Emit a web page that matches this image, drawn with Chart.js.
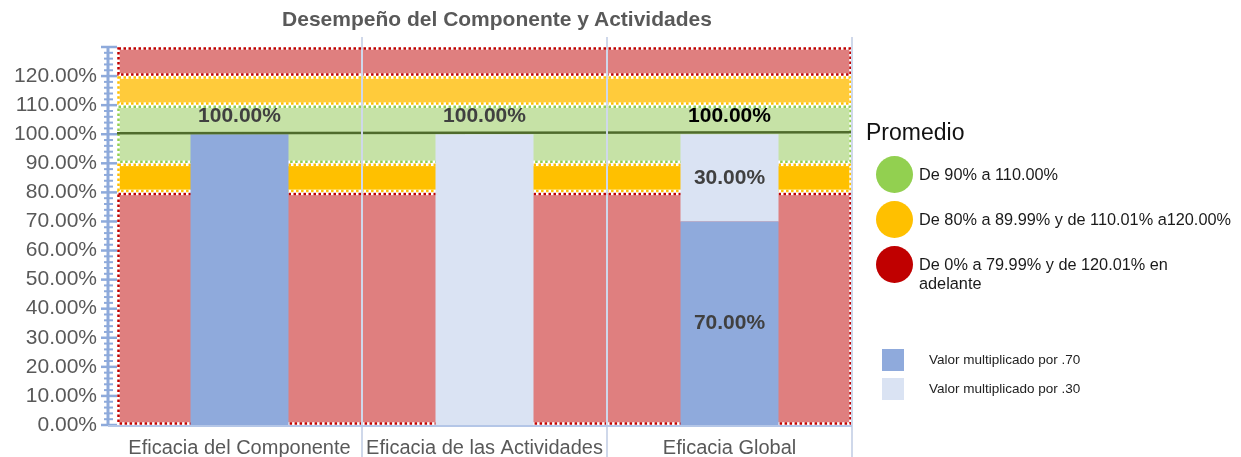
<!DOCTYPE html>
<html lang="es">
<head>
<meta charset="utf-8">
<title>Desempeño del Componente y Actividades</title>
<script src="https://cdn.jsdelivr.net/npm/chart.js@4.4.1/dist/chart.umd.min.js"></script>
<style>
  html, body { margin: 0; padding: 0; background: #fff; }
  body { width: 1241px; height: 457px; position: relative; overflow: hidden; font-family: "Liberation Sans", Arial, sans-serif; }
  #chart { position: absolute; left: 0; top: 0; }
  #titulo { position: absolute; left: 0; top: 7px; width: 994px; text-align: center; font-weight: bold; font-size: 21px; color: #595959; }
  #leyenda { position: absolute; left: 866px; top: 119px; color: #1a1a1a; }
  #leyenda h3 { margin: 0 0 10px 0; font-weight: normal; font-size: 23px; color: #111; }
  .rango { position: relative; height: 45px; }
  .rango .circulo { position: absolute; left: 10px; top: 0; width: 37px; height: 37px; border-radius: 50%; }
  .rango .texto { position: absolute; left: 53px; top: 9px; font-size: 16.3px; line-height: 19px; white-space: pre; }
  #series { position: absolute; left: 882px; top: 349px; }
  .serie { position: relative; height: 29px; }
  .serie .cuadro { position: absolute; left: 0; top: 0; width: 22px; height: 22px; }
  .serie .texto { position: absolute; left: 47px; top: 3px; font-size: 13.5px; color: #222; white-space: nowrap; }
</style>
</head>
<body>
<canvas id="chart" width="1241" height="457"></canvas>
<div id="titulo">Desempeño del Componente y Actividades</div>
<div id="leyenda"><h3>Promedio</h3></div>
<div id="series"></div>
<script>
// categorias y valores
const categorias = ['Eficacia del Componente', 'Eficacia de las Actividades', 'Eficacia Global'];
const valorSetenta = [100, 0, 70];   // Valor multiplicado por .70
const valorTreinta = [0, 100, 30];   // Valor multiplicado por .30
const nombresSeries = ['Valor multiplicado por .70', 'Valor multiplicado por .30'];
const meta = 100;

// rangos de semaforo
const bandas = [[0, 79.99], [80, 89.99], [90, 110], [110.01, 120], [120.01, 130]];
const rangosTexto = [
    'De 90% a 110.00%',
    'De 80% a 89.99% y de 110.01% a120.00%',
    'De 0% a 79.99% y de 120.01% en\nadelante'
];
const ejeMax = 130;
const ejePaso = 10;

// estilos
const coloresSeries = ['#8faadc', '#dae3f3'];
const coloresRangos = ['#92d050', '#ffc000', '#c00000'];
const bandaRelleno = ['#df7f7f', '#ffc000', '#c6e2a6', '#ffcb3b', '#df7f7f'];
const bandaBorde = ['#c00000', '#ffc000', '#92d050', '#ffc000', '#c00000'];
const gris = '#595959';

// leyendas html
const leyenda = document.getElementById('leyenda');
rangosTexto.forEach((t, i) => {
    const d = document.createElement('div');
    d.className = 'rango';
    d.innerHTML = '<div class="circulo" style="background:' + coloresRangos[i] + '"></div><div class="texto"></div>';
    d.querySelector('.texto').textContent = t;
    leyenda.appendChild(d);
});
const series = document.getElementById('series');
nombresSeries.forEach((t, i) => {
    const d = document.createElement('div');
    d.className = 'serie';
    d.innerHTML = '<div class="cuadro" style="background:' + coloresSeries[i] + '"></div><div class="texto">' + t + '</div>';
    series.appendChild(d);
});

const bandasPlugin = {
    id: 'bandas',
    beforeDatasetsDraw(chart) {
        const { ctx, chartArea: a, scales: { y } } = chart;
        ctx.save();
        bandas.forEach((b, i) => {
            const top = y.getPixelForValue(b[1]);
            const bot = y.getPixelForValue(b[0]);
            const x0 = a.left + 1.5, w = a.right - a.left - 3;
            ctx.fillStyle = bandaRelleno[i];
            ctx.fillRect(x0, top + 1.5, w, bot - top - 3);
            ctx.lineWidth = 2.5;
            ctx.setLineDash([]);
            ctx.strokeStyle = '#ffffff';
            ctx.strokeRect(x0, top + 1.5, w, bot - top - 3);
            ctx.setLineDash([2.5, 2.5]);
            ctx.strokeStyle = bandaBorde[i];
            ctx.strokeRect(x0, top + 1.5, w, bot - top - 3);
        });
        ctx.restore();
    }
};

const decoracionPlugin = {
    id: 'decoracion',
    afterDatasetsDraw(chart) {
        const { ctx, chartArea: a, scales: { x, y } } = chart;
        ctx.save();
        // linea de meta
        ctx.strokeStyle = '#4f6b2c';
        ctx.lineWidth = 2.5;
        const ym = y.getPixelForValue(meta);
        ctx.beginPath();
        ctx.moveTo(a.left, ym - 1);
        ctx.lineTo(a.right, ym - 2);
        ctx.stroke();

        // separadores de categoria
        ctx.strokeStyle = '#cfd8ea';
        ctx.lineWidth = 2;
        const cortes = [];
        for (let i = 0; i < categorias.length - 1; i++) {
            cortes.push((x.getPixelForValue(i) + x.getPixelForValue(i + 1)) / 2);
        }
        cortes.push(a.right);
        cortes.forEach(cx => {
            ctx.beginPath();
            ctx.moveTo(cx, a.top - 10);
            ctx.lineTo(cx, chart.height);
            ctx.stroke();
        });

        // regla del eje y
        const ax = a.left - 9;
        ctx.strokeStyle = '#8eaadb';
        ctx.lineWidth = 3;
        ctx.beginPath();
        ctx.moveTo(ax, y.getPixelForValue(ejeMax));
        ctx.lineTo(ax, y.getPixelForValue(0) + 1);
        ctx.stroke();
        for (let v = 0; v <= ejeMax; v += 2) {
            const py = y.getPixelForValue(v);
            const mayor = v % ejePaso === 0;
            ctx.lineWidth = mayor ? 2.5 : 2;
            ctx.beginPath();
            ctx.moveTo(mayor ? ax - 7 : ax - 4, py);
            ctx.lineTo(mayor ? ax + 9 : ax + 5, py);
            ctx.stroke();
        }
        ctx.strokeStyle = '#b4c6e7';
        ctx.lineWidth = 2;
        ctx.beginPath();
        ctx.moveTo(ax, a.bottom + 1);
        ctx.lineTo(a.right, a.bottom + 1);
        ctx.stroke();

        // etiquetas de datos
        ctx.textAlign = 'center';
        ctx.textBaseline = 'middle';
        ctx.font = 'bold 21px "Liberation Sans", Arial, sans-serif';
        categorias.forEach((c, i) => {
            const vals = [valorSetenta[i], valorTreinta[i]];
            const total = vals[0] + vals[1];
            const partes = vals.filter(v => v > 0).length;
            const cx = x.getPixelForValue(i);
            ctx.fillStyle = partes > 1 ? '#000000' : '#404040';
            ctx.fillText(total.toFixed(2) + '%', cx, y.getPixelForValue(total) - 18);
            if (partes > 1) {
                let base = 0;
                ctx.fillStyle = '#404040';
                vals.forEach(v => {
                    const mid = y.getPixelForValue(base + v / 2);
                    ctx.fillText(v.toFixed(2) + '%', cx, mid);
                    base += v;
                });
            }
        });
        ctx.restore();
    }
};

new Chart(document.getElementById('chart').getContext('2d'), {
    type: 'bar',
    data: {
        labels: categorias,
        datasets: [
            {
                label: nombresSeries[0],
                data: valorSetenta,
                backgroundColor: coloresSeries[0],
                barPercentage: 0.4,
                categoryPercentage: 1
            },
            {
                label: nombresSeries[1],
                data: valorTreinta,
                backgroundColor: coloresSeries[1],
                barPercentage: 0.4,
                categoryPercentage: 1
            }
        ]
    },
    options: {
        responsive: false,
        animation: false,
        layout: { padding: { left: 14, right: 389, top: 47, bottom: 0 } },
        plugins: {
            legend: { display: false },
            tooltip: { enabled: false }
        },
        scales: {
            x: {
                stacked: true,
                grid: { display: false },
                border: { display: false },
                afterFit: s => { s.height = 32; s.paddingLeft = 0; s.paddingRight = 0; },
                ticks: {
                    color: gris,
                    padding: 3,
                    autoSkip: false,
                    maxRotation: 0,
                    minRotation: 0,
                    font: { family: '"Liberation Sans", Arial, sans-serif', size: 20 }
                }
            },
            y: {
                stacked: true,
                min: 0,
                max: ejeMax,
                grid: { display: false },
                border: { display: false },
                afterFit: s => { s.width = 103; s.paddingTop = 0; s.paddingBottom = 0; },
                ticks: {
                    stepSize: ejePaso,
                    autoSkip: false,
                    padding: 12,
                    color: gris,
                    font: { family: '"Liberation Sans", Arial, sans-serif', size: 21 },
                    callback: v => v >= ejeMax ? '' : v.toFixed(2) + '%'
                }
            }
        }
    },
    plugins: [bandasPlugin, decoracionPlugin]
});
</script>
</body>
</html>
